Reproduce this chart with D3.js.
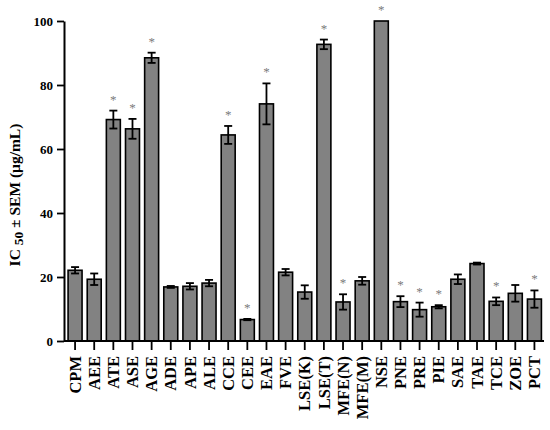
<!DOCTYPE html>
<html>
<head>
<meta charset="utf-8">
<script src="https://cdn.jsdelivr.net/npm/d3@7"></script>
<style>
  html, body { margin: 0; padding: 0; background: #fff; }
</style>
</head>
<body>
<div id="chart"></div>
<script>
// ── Data ───────────────────────────────────────────────────────
const extracts = ["CPM", "AEE", "ATE", "ASE", "AGE", "ADE", "APE", "ALE", "CCE", "CEE",
  "EAE", "FVE", "LSE(K)", "LSE(T)", "MFE(N)", "MFE(M)", "NSE", "PNE", "PRE", "PIE",
  "SAE", "TAE", "TCE", "ZOE", "PCT"];
const ic50 = [22.1, 19.3, 69.2, 66.3, 88.5, 16.9, 17.1, 18.1, 64.4, 6.7,
  74.1, 21.5, 15.3, 92.7, 12.2, 18.8, 100, 12.3, 9.8, 10.7,
  19.3, 24.2, 12.4, 14.9, 13.1];
const sem = [1.0, 1.8, 2.8, 3.1, 1.6, 0.3, 1.0, 1.0, 2.8, 0.2,
  6.4, 1.0, 2.1, 1.5, 2.4, 1.2, 0, 1.7, 2.2, 0.5,
  1.5, 0.3, 1.2, 2.6, 2.7];
const significant = ["ATE", "ASE", "AGE", "CCE", "CEE", "EAE", "LSE(T)", "MFE(N)",
  "NSE", "PNE", "PRE", "PIE", "TCE", "PCT"];
const yTicks = [0, 20, 40, 60, 80, 100];

const W = 550, H = 430;
const margin = { top: 21, right: 6, bottom: 89, left: 64 };
const innerW = W - margin.left - margin.right;
const innerH = H - margin.top - margin.bottom;
const serif = "'Liberation Serif', 'Times New Roman', serif";

const svg = d3.select("#chart").append("svg")
  .attr("width", W).attr("height", H)
  .append("g")
  .attr("transform", `translate(${margin.left},${margin.top})`);

const x = d3.scaleBand()
  .domain(extracts)
  .range([1.5, innerW])
  .paddingInner(0.27)
  .paddingOuter(0.135);

const y = d3.scaleLinear().domain([0, 100]).range([innerH, 0]);

const rows = extracts.map((name, i) => ({ name, v: ic50[i], e: sem[i] }));

// ── Bars ───────────────────────────────────────────────────────
svg.selectAll(".bar")
  .data(rows).enter().append("rect")
  .attr("class", "bar")
  .attr("x", d => x(d.name))
  .attr("y", d => y(d.v))
  .attr("width", x.bandwidth())
  .attr("height", d => innerH - y(d.v))
  .attr("fill", "#828282")
  .attr("stroke", "#000")
  .attr("stroke-width", 1.6);

// ── Error bars ─────────────────────────────────────────────────
const cap = 4;
const err = svg.selectAll(".err")
  .data(rows.filter(d => d.e > 0)).enter().append("g")
  .attr("class", "err")
  .attr("stroke", "#000")
  .attr("stroke-width", 1.8);

err.append("line")
  .attr("x1", d => x(d.name) + x.bandwidth() / 2)
  .attr("x2", d => x(d.name) + x.bandwidth() / 2)
  .attr("y1", d => y(d.v - d.e))
  .attr("y2", d => y(d.v + d.e));

err.append("line")
  .attr("x1", d => x(d.name) + x.bandwidth() / 2 - cap)
  .attr("x2", d => x(d.name) + x.bandwidth() / 2 + cap)
  .attr("y1", d => y(d.v + d.e))
  .attr("y2", d => y(d.v + d.e));

err.append("line")
  .attr("x1", d => x(d.name) + x.bandwidth() / 2 - cap)
  .attr("x2", d => x(d.name) + x.bandwidth() / 2 + cap)
  .attr("y1", d => y(d.v - d.e))
  .attr("y2", d => y(d.v - d.e));

// ── Significance stars ─────────────────────────────────────────
svg.selectAll(".star")
  .data(rows.filter(d => significant.includes(d.name))).enter().append("text")
  .attr("class", "star")
  .attr("x", d => x(d.name) + x.bandwidth() / 2)
  .attr("y", d => y(d.v + d.e) - 7)
  .attr("text-anchor", "middle")
  .style("font-family", serif)
  .style("font-size", "13px")
  .style("fill", "#7a7a7a")
  .text("*");

// ── Axes ───────────────────────────────────────────────────────
const xAxis = svg.append("g")
  .attr("transform", `translate(0,${innerH})`)
  .call(d3.axisBottom(x).tickSize(9).tickSizeOuter(0));
xAxis.select(".domain").attr("stroke-width", 2).attr("d", `M0,0H${innerW}`);
xAxis.selectAll(".tick line").attr("stroke-width", 1.8);
xAxis.selectAll(".tick text")
  .attr("transform", "rotate(-90)")
  .attr("x", -15)
  .attr("y", 0)
  .attr("dy", "0.34em")
  .attr("text-anchor", "end")
  .style("font-family", serif)
  .style("font-size", "16.5px")
  .style("font-weight", "700")
  .style("fill", "#000");

const yAxis = svg.append("g")
  .call(d3.axisLeft(y).tickValues(yTicks).tickSize(7).tickSizeOuter(0));
yAxis.select(".domain").attr("stroke-width", 2);
yAxis.selectAll(".tick line").attr("stroke-width", 1.8);
yAxis.selectAll(".tick text")
  .attr("x", -11)
  .style("font-family", serif)
  .style("font-size", "13px")
  .style("font-weight", "700")
  .style("fill", "#000");

// ── Y label ────────────────────────────────────────────────────
const yLabel = svg.append("text")
  .attr("transform", `translate(${-margin.left + 20},${innerH / 2 + 14}) rotate(-90)`)
  .attr("text-anchor", "middle")
  .style("font-family", serif)
  .style("font-size", "15.5px")
  .style("font-weight", "700")
  .style("fill", "#000");
yLabel.append("tspan").text("IC ");
yLabel.append("tspan").attr("dy", "0.25em").style("font-size", "13.5px").text("50");
yLabel.append("tspan").attr("dy", "-0.25em").text(" ± SEM (μg/mL)");
</script>
</body>
</html>
